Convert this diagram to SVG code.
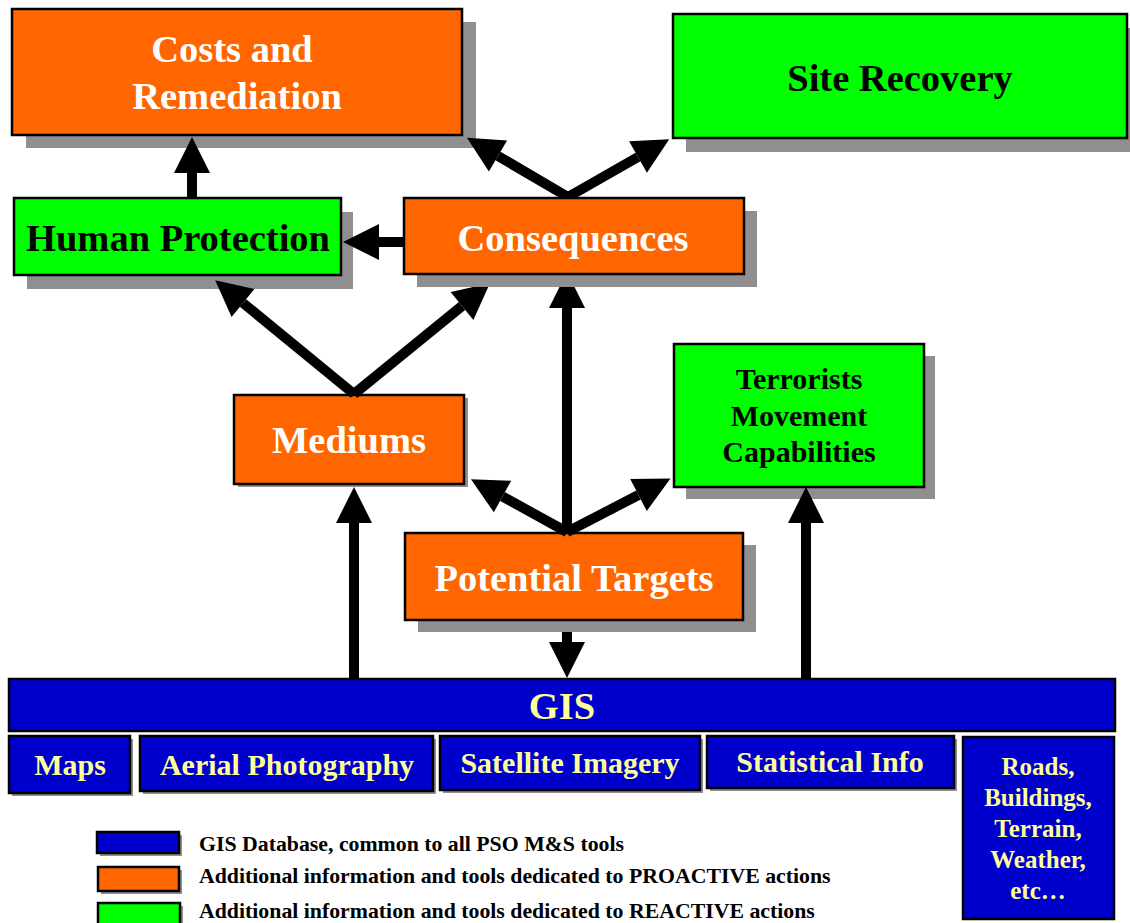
<svg xmlns="http://www.w3.org/2000/svg" width="1130" height="923" viewBox="0 0 1130 923">
  <style>
    .shadow { fill: #8f8f8f; }
    .orange { fill: #ff6600; stroke: #000; stroke-width: 2.5; }
    .green { fill: #00ff00; stroke: #000; stroke-width: 2.5; }
    .blue { fill: #0000cc; stroke: #000; stroke-width: 2.5; }
    text { font-family: "Liberation Serif", "Times New Roman", serif; font-weight: bold; text-anchor: middle; }
    .big { font-size: 38.5px; }
    .w { fill: #ffffff; }
    .k { fill: #000000; }
    .y { fill: #ffff99; }
    .sub { font-size: 30px; }
    .small { font-size: 25px; }
    .mid { font-size: 30px; }
    .legend { font-size: 21.8px; text-anchor: start; fill: #000; }
    .conn { stroke: #000; stroke-width: 10; fill: none; marker-end: url(#head); }
  </style>
  <defs>
    <marker id="head" markerUnits="userSpaceOnUse" viewBox="0 -18 36 36" refX="0" refY="0" markerWidth="36" markerHeight="36" orient="auto" overflow="visible">
      <path d="M0,-18 L36,0 L0,18 Z" fill="#000"/>
    </marker>
  </defs>

  <rect width="1130" height="923" fill="#ffffff"/>

  <!-- upper nodes -->
  <g id="costs-remediation">
    <rect class="shadow" x="26" y="22" width="450" height="126"/>
    <rect class="orange" x="12" y="9" width="450" height="126"/>
    <text class="big w" x="232" y="62">Costs and</text>
    <text class="big w" x="237" y="109">Remediation</text>
  </g>

  <g id="site-recovery">
    <rect class="shadow" x="686" y="28" width="444" height="124"/>
    <rect class="green" x="673" y="14" width="454" height="124"/>
    <text class="big k" x="900" y="91">Site Recovery</text>
  </g>

  <g id="human-protection">
    <rect class="shadow" x="27" y="212" width="326" height="77"/>
    <rect class="green" x="14" y="198" width="327" height="77"/>
    <text class="big k" x="178" y="251">Human Protection</text>
  </g>

  <g id="mediums">
    <rect class="shadow" x="238" y="398" width="230" height="89"/>
    <rect class="orange" x="234" y="395" width="230" height="89"/>
    <text class="big w" x="349" y="453">Mediums</text>
  </g>

  <g id="terrorists-movement">
    <rect class="shadow" x="686" y="356" width="249" height="143"/>
    <rect class="green" x="674" y="344" width="250" height="143"/>
    <text class="mid k" x="799" y="389">Terrorists</text>
    <text class="mid k" x="799" y="426">Movement</text>
    <text class="mid k" x="799" y="462">Capabilities</text>
  </g>

  <g id="potential-targets">
    <rect class="shadow" x="418" y="545" width="338" height="87"/>
    <rect class="orange" x="405" y="533" width="338" height="87"/>
    <text class="big w" x="574" y="591">Potential Targets</text>
  </g>

  <!-- connectors -->
  <g id="connectors">
    <path class="conn" d="M192,197 L192,173"/>
    <path class="conn" d="M404,242 L379,242"/>
    <path class="conn" d="M568,197 L498,156"/>
    <path class="conn" d="M568,197 L638,157"/>
    <path class="conn" d="M354,394 L243,303"/>
    <path class="conn" d="M354,394 L462,306"/>
    <path class="conn" d="M567,533 L567,308"/>
    <path class="conn" d="M567,532 L502.5,496.5"/>
    <path class="conn" d="M567,532 L638.5,495"/>
    <path class="conn" d="M354,680 L354,523"/>
    <path class="conn" d="M806,680 L806,523"/>
    <path class="conn" d="M567,632 L567,642"/>
  </g>

  <!-- drawn over the arrowheads that run into its shadow -->
  <g id="consequences">
    <rect class="shadow" x="417" y="211" width="340" height="76"/>
    <rect class="orange" x="404" y="198" width="340" height="76"/>
    <text class="big w" x="573" y="251">Consequences</text>
  </g>

  <!-- GIS layer -->
  <g id="gis">
    <rect class="blue" x="9" y="679" width="1106" height="52"/>
    <text class="big y" x="562" y="719">GIS</text>
  </g>

  <g id="maps">
    <rect class="shadow" x="12" y="739" width="121" height="57"/>
    <rect class="blue" x="9" y="736" width="121" height="57"/>
    <text class="sub y" x="70" y="775">Maps</text>
  </g>

  <g id="aerial-photography">
    <rect class="shadow" x="143" y="739" width="293" height="55"/>
    <rect class="blue" x="140" y="736" width="293" height="55"/>
    <text class="sub y" x="287" y="775">Aerial Photography</text>
  </g>

  <g id="satellite-imagery">
    <rect class="shadow" x="443" y="739" width="260" height="54"/>
    <rect class="blue" x="440" y="736" width="260" height="54"/>
    <text class="sub y" x="570" y="773">Satellite Imagery</text>
  </g>

  <g id="statistical-info">
    <rect class="shadow" x="710" y="739" width="247" height="52"/>
    <rect class="blue" x="707" y="736" width="247" height="52"/>
    <text class="sub y" x="830" y="772">Statistical Info</text>
  </g>

  <g id="roads-buildings">
    <rect class="blue" x="963" y="737" width="151" height="182"/>
    <text class="small y" x="1038" y="775">Roads,</text>
    <text class="small y" x="1038" y="806">Buildings,</text>
    <text class="small y" x="1038" y="837">Terrain,</text>
    <text class="small y" x="1038" y="868">Weather,</text>
    <text class="small y" x="1038" y="899">etc…</text>
  </g>

  <!-- legend -->
  <g id="legend">
    <rect class="shadow" x="100" y="835" width="82" height="21"/>
    <rect class="blue" x="97" y="832" width="82" height="21"/>
    <text class="legend" x="199" y="851">GIS Database, common to all PSO M&amp;S tools</text>
    <rect class="shadow" x="101" y="870" width="81" height="24"/>
    <rect class="orange" x="98" y="867" width="81" height="24"/>
    <text class="legend" x="199" y="883">Additional information and tools dedicated to PROACTIVE actions</text>
    <rect class="shadow" x="101" y="906" width="82" height="24"/>
    <rect class="green" x="98" y="903" width="82" height="24"/>
    <text class="legend" x="199" y="918">Additional information and tools dedicated to REACTIVE actions</text>
  </g>
</svg>
